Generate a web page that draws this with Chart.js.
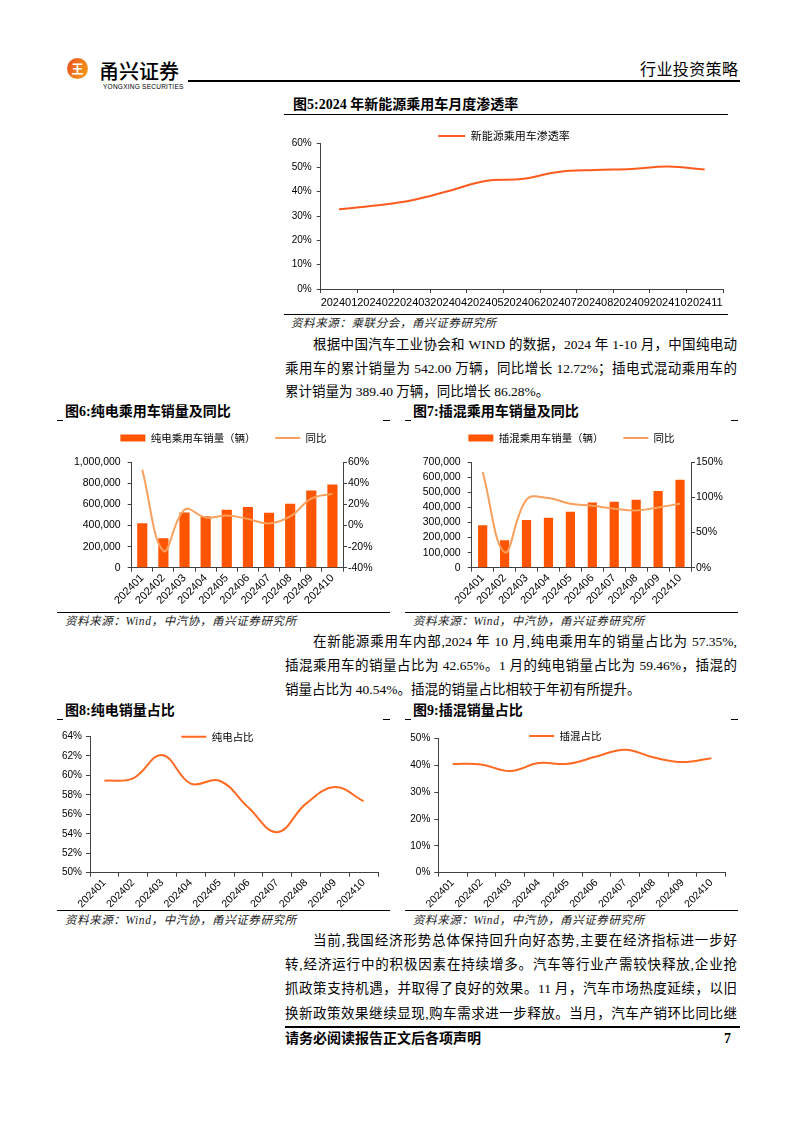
<!DOCTYPE html>
<html>
<head>
<meta charset="utf-8">
<title>2024 新能源乘用车</title>
<script src="https://cdn.jsdelivr.net/npm/chart.js"></script>
<style>
  body { margin: 0; background: #fff; }
  #page { position: relative; width: 794px; height: 1123px; overflow: hidden;
          font-family: "Liberation Serif", "Noto Sans CJK SC", serif; color: #000; }
  .abs { position: absolute; white-space: nowrap; }
  .rule { position: absolute; background: #000; height: 1px; }
  .ftitle { position: absolute; white-space: nowrap; font-weight: bold; font-size: 14px; line-height: 16px; }
  .src { position: absolute; white-space: nowrap; font-style: italic; font-size: 11.5px; line-height: 14px;
         letter-spacing: 0.6px; color: #222; }
  .p { position: absolute; font-size: 13.5px; line-height: 20px; text-align: justify; text-align-last: justify; }
  .p.last { text-align-last: left; }
  canvas { position: absolute; }
</style>
</head>
<body>
<div id="page">

  <!-- header -->
  <div class="abs" style="left:67px;top:58px;width:21px;height:21px;border-radius:50%;
       background:linear-gradient(120deg,#e84e1b,#f7a21b);color:#fff;font:bold 12px 'Noto Sans CJK SC';
       line-height:21px;text-align:center;">王</div>
  <div class="abs" style="left:99px;top:59px;font:500 20px 'Noto Sans CJK SC';line-height:24px;">甬兴证券</div>
  <div class="abs" style="left:103px;top:83px;font:6.5px 'Liberation Sans';letter-spacing:0.25px;line-height:8px;">YONGXING SECURITIES</div>
  <div class="rule" style="left:188px;top:80px;width:552px;height:2px;"></div>
  <div class="abs" style="left:640px;top:58px;font:16px 'Noto Sans CJK SC';line-height:20px;letter-spacing:0.4px;">行业投资策略</div>

  <!-- figure 5 -->
  <div class="ftitle" style="left:293px;top:97px;">图5:2024 年新能源乘用车月度渗透率</div>
  <div class="rule" style="left:284px;top:114px;width:444px;"></div>
  <canvas id="c5" width="445" height="190" style="left:285px;top:122px;"></canvas>
  <div class="rule" style="left:284px;top:314px;width:444px;"></div>
  <div class="src" style="left:291px;top:316px;">资料来源：乘联分会，甬兴证券研究所</div>

  <div class="p" style="left:313px;top:335px;width:424px;">根据中国汽车工业协会和 WIND 的数据，2024 年 1-10 月，中国纯电动</div>
  <div class="p" style="left:285px;top:359px;width:452px;">乘用车的累计销量为 542.00 万辆，同比增长 12.72%；插电式混动乘用车的</div>
  <div class="p last" style="left:285px;top:382px;width:452px;">累计销量为 389.40 万辆，同比增长 86.28%。</div>

  <!-- figures 6 and 7 -->
  <div class="ftitle" style="left:65px;top:404px;">图6:纯电乘用车销量及同比</div>
  <div class="ftitle" style="left:413px;top:404px;">图7:插混乘用车销量及同比</div>
  <div class="rule" style="left:57px;top:420px;width:6px;"></div>
  <div class="rule" style="left:383px;top:420px;width:7px;"></div>
  <div class="rule" style="left:405px;top:420px;width:6px;"></div>
  <div class="rule" style="left:731px;top:420px;width:7px;"></div>
  <canvas id="c6" width="333" height="188" style="left:57px;top:422px;"></canvas>
  <canvas id="c7" width="333" height="188" style="left:405px;top:422px;"></canvas>
  <div class="rule" style="left:57px;top:612px;width:333px;"></div>
  <div class="rule" style="left:405px;top:612px;width:333px;"></div>
  <div class="src" style="left:65px;top:614px;">资料来源：Wind，中汽协，甬兴证券研究所</div>
  <div class="src" style="left:413px;top:614px;">资料来源：Wind，中汽协，甬兴证券研究所</div>

  <div class="p" style="left:313px;top:632px;width:424px;">在新能源乘用车内部,2024 年 10 月,纯电乘用车的销量占比为 57.35%,</div>
  <div class="p" style="left:285px;top:656px;width:452px;">插混乘用车的销量占比为 42.65%。1 月的纯电销量占比为 59.46%，插混的</div>
  <div class="p last" style="left:285px;top:680px;width:452px;">销量占比为 40.54%。插混的销量占比相较于年初有所提升。</div>

  <!-- figures 8 and 9 -->
  <div class="ftitle" style="left:65px;top:703px;">图8:纯电销量占比</div>
  <div class="ftitle" style="left:413px;top:703px;">图9:插混销量占比</div>
  <div class="rule" style="left:57px;top:719px;width:6px;"></div>
  <div class="rule" style="left:383px;top:719px;width:7px;"></div>
  <div class="rule" style="left:405px;top:719px;width:6px;"></div>
  <div class="rule" style="left:731px;top:719px;width:7px;"></div>
  <canvas id="c8" width="333" height="192" style="left:57px;top:716px;"></canvas>
  <canvas id="c9" width="333" height="190" style="left:405px;top:718px;"></canvas>
  <div class="rule" style="left:57px;top:910px;width:333px;"></div>
  <div class="rule" style="left:405px;top:910px;width:333px;"></div>
  <div class="src" style="left:65px;top:913px;">资料来源：Wind，中汽协，甬兴证券研究所</div>
  <div class="src" style="left:413px;top:913px;">资料来源：Wind，中汽协，甬兴证券研究所</div>

  <div class="p" style="left:313px;top:931px;width:424px;">当前,我国经济形势总体保持回升向好态势,主要在经济指标进一步好</div>
  <div class="p" style="left:285px;top:955px;width:452px;">转,经济运行中的积极因素在持续增多。汽车等行业产需较快释放,企业抢</div>
  <div class="p" style="left:285px;top:979px;width:452px;">抓政策支持机遇，并取得了良好的效果。11 月，汽车市场热度延续，以旧</div>
  <div class="p" style="left:285px;top:1004px;width:452px;">换新政策效果继续显现,购车需求进一步释放。当月，汽车产销环比同比继</div>

  <!-- footer -->
  <div class="rule" style="left:285px;top:1026px;width:455px;height:1.5px;"></div>
  <div class="abs" style="left:285px;top:1030px;font-weight:bold;font-size:14px;line-height:18px;">请务必阅读报告正文后各项声明</div>
  <div class="abs" style="left:724px;top:1030px;font-weight:bold;font-size:14px;line-height:18px;">7</div>
</div>

<script>
  // data
  const months5 = ['202401', '202402', '202403', '202404', '202405', '202406',
                   '202407', '202408', '202409', '202410', '202411'];
  const nevPenetration = [32.8, 34.3, 36.5, 40.3, 44.4, 45.2, 48.1, 48.9, 49.3, 50.3, 49.1];

  const months = ['202401', '202402', '202403', '202404', '202405',
                  '202406', '202407', '202408', '202409', '202410'];
  const bevSales = [422000, 279000, 524000, 489000, 549000, 575000, 521000, 606000, 733000, 790000];
  const bevYoy = [53, -24, 15, 7.6, 9.5, 6.3, 1.9, 8.6, 25.4, 30.2];
  const phevSales = [282000, 182000, 316000, 331000, 371000, 433000, 438000, 451000, 509000, 584000];
  const phevYoy = [136, 22, 97, 99, 91, 88, 84, 81.5, 85.7, 91];

  const bevShare = [59.46, 59.7, 62.1, 59.15, 59.45, 56.7, 54.16, 57.1, 58.8, 57.35];
  const phevShare = [40.54, 40.3, 37.9, 40.85, 40.55, 43.3, 45.84, 42.9, 41.2, 42.65];

  const axisColor = '#404040';
  const barColor = '#FF5400';
  Chart.defaults.font.family = "'Liberation Sans', 'Noto Sans CJK SC', sans-serif";
  Chart.defaults.color = '#000';

  // moves the legend after layout so it sits where the original has it
  const legendShift = {
    id: 'legendShift',
    afterLayout(chart, args, opts) {
      if (opts.dy && chart.legend) {
        chart.legend.top += opts.dy;
        chart.legend.bottom += opts.dy;
      }
    }
  };

  function legendOpts(size, pad, w) {
    return {
      position: 'top',
      labels: {
        usePointStyle: true, pointStyleWidth: w, boxHeight: 7, padding: pad,
        font: { family: 'Noto Sans CJK SC', size: size }, color: '#000',
        generateLabels(chart) {
          const items = Chart.defaults.plugins.legend.labels.generateLabels(chart);
          items.sort((a, b) => a.datasetIndex - b.datasetIndex);
          items.forEach(it => {
            const ds = chart.data.datasets[it.datasetIndex];
            if (ds.type === 'bar') {
              it.pointStyle = 'rect'; it.fillStyle = ds.backgroundColor; it.lineWidth = 0;
            } else {
              it.pointStyle = 'line'; it.strokeStyle = ds.borderColor; it.lineWidth = 2;
            }
          });
          return items;
        }
      }
    };
  }

  function catAxis(fontSize, rotation, height) {
    return {
      offset: true,
      grid: { offset: true, drawOnChartArea: false, tickLength: 4, color: axisColor },
      border: { color: axisColor },
      ticks: { autoSkip: false, minRotation: rotation, maxRotation: rotation,
               padding: rotation ? 0 : 3, font: { size: fontSize } },
      afterFit: s => { s.height = height; }
    };
  }

  function valAxis(pos, min, max, step, fmt, fontSize, pad, width) {
    return {
      position: pos, min: min, max: max,
      grid: { drawOnChartArea: false, tickLength: 4, color: axisColor },
      border: { color: axisColor },
      ticks: { stepSize: step, autoSkip: false, callback: fmt, padding: pad, font: { size: fontSize } },
      afterFit: s => { s.width = width; }
    };
  }

  const pct = v => v + '%';
  const thousands = v => v.toLocaleString('en-US');

  // figure 5
  new Chart(document.getElementById('c5'), {
    type: 'line',
    data: {
      labels: months5,
      datasets: [{ type: 'line', label: '新能源乘用车渗透率', data: nevPenetration,
                   borderColor: '#FF5B1F', borderWidth: 2, tension: 0.4, pointRadius: 0 }]
    },
    options: {
      responsive: false, animation: false,
      layout: { padding: { top: 0, right: 7, bottom: 0, left: 0 } },
      plugins: { legend: legendOpts(11, 0, 27), legendShift: { dy: 8.5 }, tooltip: { enabled: false } },
      scales: {
        x: catAxis(11, 0, 23),
        y: valAxis('left', 0, 60, 10, pct, 10, 5, 35.7)
      }
    },
    plugins: [legendShift]
  });

  // figures 6 and 7
  function comboChart(id, labels, sales, yoy, salesLabel, barPct, salesMax, salesStep,
                      yoyMin, yoyMax, yoyStep, leftW, rightPad) {
    new Chart(document.getElementById(id), {
      type: 'bar',
      data: {
        labels: labels,
        datasets: [
          { type: 'bar', label: salesLabel, data: sales, backgroundColor: barColor,
            barPercentage: barPct, categoryPercentage: 1, yAxisID: 'y', order: 1 },
          { type: 'line', label: '同比', data: yoy, borderColor: '#F9A05C', borderWidth: 2,
            tension: 0.4, pointRadius: 0, yAxisID: 'y1', order: 0 }
        ]
      },
      options: {
        responsive: false, animation: false,
        layout: { padding: 0 },
        plugins: { legend: legendOpts(10.5, 19.75, 25), legendShift: { dy: -9 }, tooltip: { enabled: false } },
        scales: {
          x: catAxis(11, 45, 42.3),
          y: valAxis('left', 0, salesMax, salesStep, thousands, 10.5, 7, leftW),
          y1: valAxis('right', yoyMin, yoyMax, yoyStep, pct, 10.5, rightPad, 47)
        }
      },
      plugins: [legendShift]
    });
  }
  comboChart('c6', months, bevSales, bevYoy, '纯电乘用车销量（辆）', 0.48,
             1000000, 200000, -40, 60, 20, 74.7, 1);
  comboChart('c7', months, phevSales, phevYoy, '插混乘用车销量（辆）', 0.42,
             700000, 100000, 0, 150, 50, 66.7, 1);

  // figures 8 and 9
  function shareChart(id, label, values, min, max, step, yW, rightPad, dy) {
    new Chart(document.getElementById(id), {
      type: 'line',
      data: {
        labels: months,
        datasets: [{ type: 'line', label: label, data: values, borderColor: '#FF6A22',
                     borderWidth: 2, tension: 0.4, pointRadius: 0 }]
      },
      options: {
        responsive: false, animation: false,
        layout: { padding: { top: 0, right: rightPad, bottom: 0, left: 0 } },
        plugins: { legend: legendOpts(10.5, 0, 25), legendShift: { dy: dy }, tooltip: { enabled: false } },
        scales: {
          x: catAxis(10.5, 45, 35.3),
          y: valAxis('left', min, max, step, pct, 10, 4, yW)
        }
      },
      plugins: [legendShift]
    });
  }
  shareChart('c8', '纯电占比', bevShare, 50, 64, 2, 33, 12, 15.5);
  shareChart('c9', '插混占比', phevShare, 0, 50, 10, 33.3, 12.3, 12.75);
</script>
</body>
</html>
